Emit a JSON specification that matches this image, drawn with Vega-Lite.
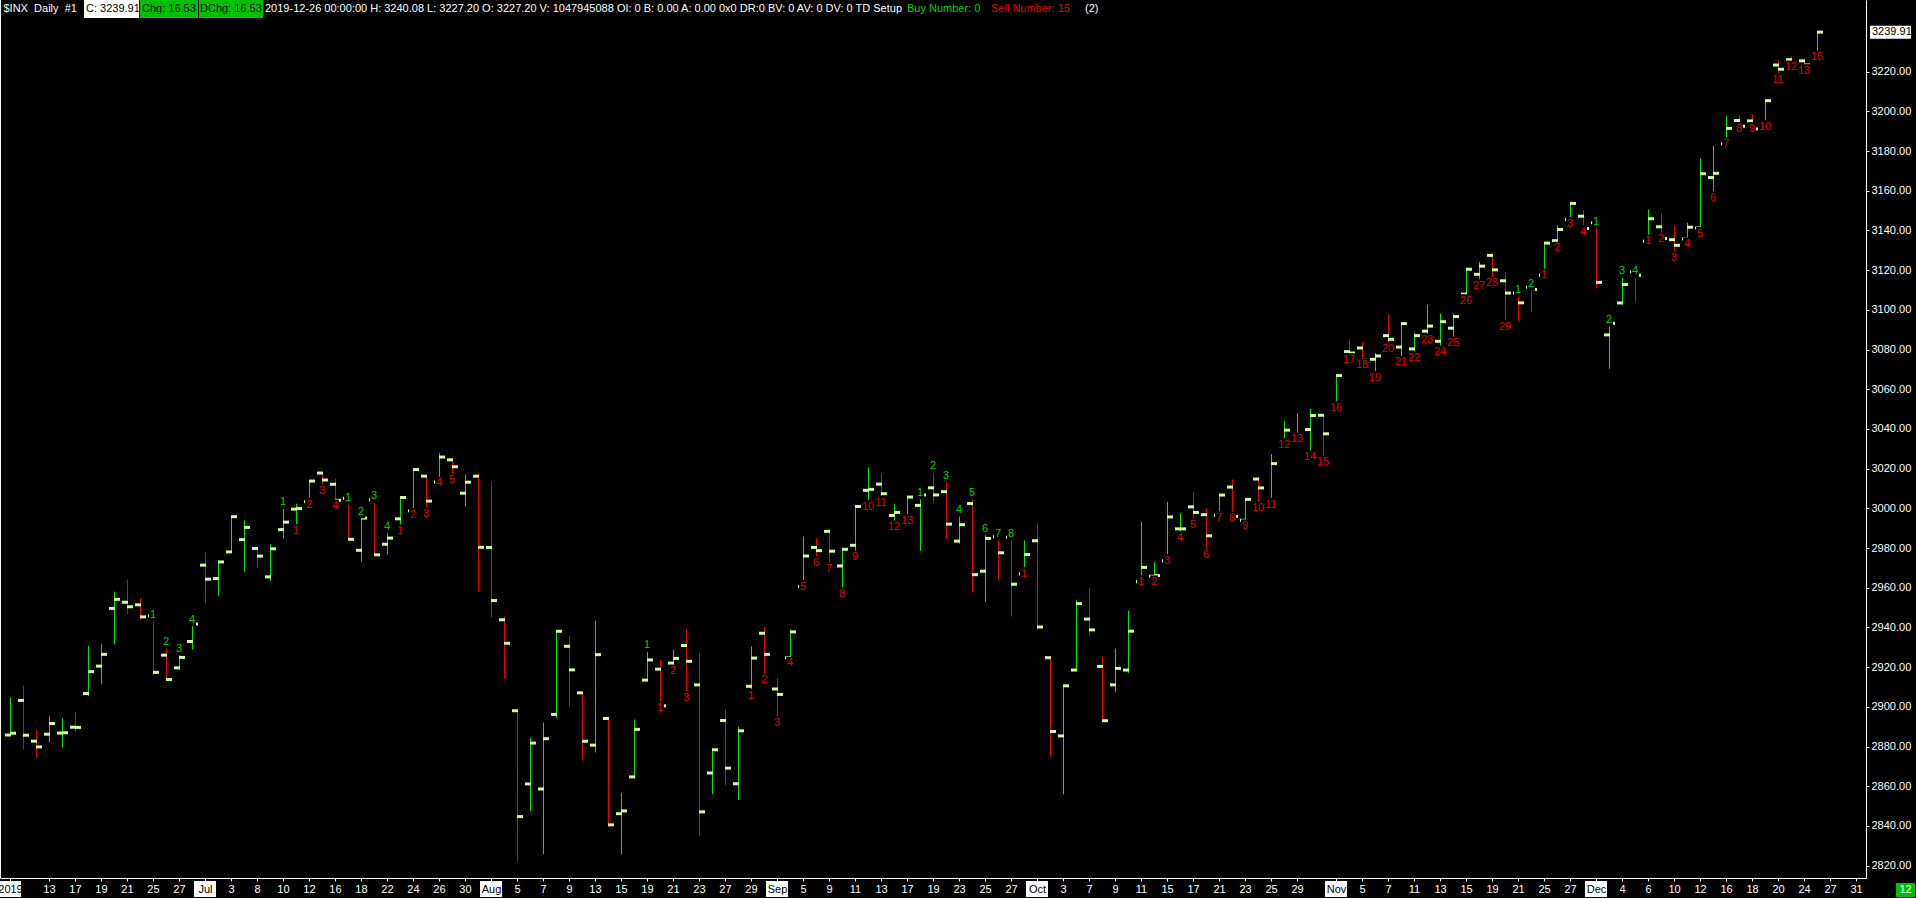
{
"$schema": "https://vega.github.io/schema/vega-lite/v6.json",
"width": 1866,
"height": 878,
"autosize": {"type": "none"},
"padding": {"left": 0, "top": 0, "right": 50, "bottom": 20},
"background": "#000000",
"config": {"view": {"stroke": null}, "font": "Liberation Sans", "axis": {"labelFont": "Liberation Sans"}},
"datasets": {
"ohlc": [
{"d":"2019-06-10","o":2885.83,"h":2904.77,"l":2885.51,"c":2886.73},
{"d":"2019-06-11","o":2903.27,"h":2910.61,"l":2878.53,"c":2885.72},
{"d":"2019-06-12","o":2882.73,"h":2888.57,"l":2874.68,"c":2879.84},
{"d":"2019-06-13","o":2886.24,"h":2895.24,"l":2881.99,"c":2891.64},
{"d":"2019-06-14","o":2886.82,"h":2894.45,"l":2879.62,"c":2886.98},
{"d":"2019-06-17","o":2889.75,"h":2897.27,"l":2887.30,"c":2889.67},
{"d":"2019-06-18","o":2906.71,"h":2930.79,"l":2905.44,"c":2917.75},
{"d":"2019-06-19","o":2920.55,"h":2931.74,"l":2911.43,"c":2926.46},
{"d":"2019-06-20","o":2949.60,"h":2958.06,"l":2931.50,"c":2954.18},
{"d":"2019-06-21","o":2952.71,"h":2964.15,"l":2946.87,"c":2950.46},
{"d":"2019-06-24","o":2951.42,"h":2954.92,"l":2944.05,"c":2945.35},
{"d":"2019-06-25","o":2945.78,"h":2946.52,"l":2916.01,"c":2917.38,"b":1},
{"d":"2019-06-26","o":2926.07,"h":2932.59,"l":2912.99,"c":2913.78,"b":2},
{"d":"2019-06-27","o":2919.66,"h":2929.30,"l":2918.57,"c":2924.92,"b":3},
{"d":"2019-06-28","o":2932.94,"h":2943.98,"l":2929.05,"c":2941.76,"b":4},
{"d":"2019-07-01","o":2971.41,"h":2977.93,"l":2952.22,"c":2964.33},
{"d":"2019-07-02","o":2964.66,"h":2973.21,"l":2955.92,"c":2973.01},
{"d":"2019-07-03","o":2978.08,"h":2995.84,"l":2977.96,"c":2995.82},
{"d":"2019-07-05","o":2984.25,"h":2994.03,"l":2967.97,"c":2990.41},
{"d":"2019-07-08","o":2979.77,"h":2980.76,"l":2970.09,"c":2975.95},
{"d":"2019-07-09","o":2965.52,"h":2981.90,"l":2963.44,"c":2979.63},
{"d":"2019-07-10","o":2989.30,"h":3002.98,"l":2984.62,"c":2993.07,"b":1},
{"d":"2019-07-11","o":2999.62,"h":3002.33,"l":2988.80,"c":2999.91,"s":1},
{"d":"2019-07-12","o":3003.36,"h":3013.92,"l":3001.87,"c":3013.77,"s":2},
{"d":"2019-07-15","o":3017.80,"h":3017.80,"l":3008.77,"c":3014.30,"s":3},
{"d":"2019-07-16","o":3012.13,"h":3015.02,"l":3001.15,"c":3004.04,"s":4},
{"d":"2019-07-17","o":3005.10,"h":3005.26,"l":2984.25,"c":2984.42,"b":1},
{"d":"2019-07-18","o":2978.87,"h":2998.28,"l":2973.09,"c":2995.11,"b":2},
{"d":"2019-07-19","o":3004.26,"h":3006.02,"l":2975.86,"c":2976.61,"b":3},
{"d":"2019-07-22","o":2981.93,"h":2990.71,"l":2976.65,"c":2985.03,"b":4},
{"d":"2019-07-23","o":2994.74,"h":3005.90,"l":2988.56,"c":3005.47,"s":1},
{"d":"2019-07-24","o":2998.77,"h":3019.59,"l":2996.82,"c":3019.56,"s":2},
{"d":"2019-07-25","o":3016.26,"h":3016.31,"l":2997.24,"c":3003.67,"s":3},
{"d":"2019-07-26","o":3013.25,"h":3027.98,"l":3012.59,"c":3025.86,"s":4},
{"d":"2019-07-29","o":3024.47,"h":3025.61,"l":3014.30,"c":3020.97,"s":5},
{"d":"2019-07-30","o":3007.66,"h":3017.19,"l":3000.94,"c":3013.18},
{"d":"2019-07-31","o":3016.22,"h":3017.40,"l":2958.08,"c":2980.38},
{"d":"2019-08-01","o":2980.32,"h":3013.59,"l":2945.23,"c":2953.56},
{"d":"2019-08-02","o":2943.90,"h":2945.50,"l":2914.11,"c":2932.05},
{"d":"2019-08-05","o":2898.07,"h":2898.07,"l":2822.12,"c":2844.74},
{"d":"2019-08-06","o":2861.18,"h":2884.40,"l":2847.42,"c":2881.77},
{"d":"2019-08-07","o":2858.65,"h":2892.17,"l":2825.71,"c":2883.98},
{"d":"2019-08-08","o":2896.21,"h":2938.72,"l":2894.47,"c":2938.09},
{"d":"2019-08-09","o":2930.51,"h":2935.75,"l":2900.15,"c":2918.65},
{"d":"2019-08-12","o":2907.07,"h":2907.58,"l":2873.14,"c":2882.70},
{"d":"2019-08-13","o":2880.72,"h":2943.31,"l":2877.05,"c":2926.32},
{"d":"2019-08-14","o":2894.15,"h":2894.15,"l":2839.64,"c":2840.60},
{"d":"2019-08-15","o":2846.20,"h":2856.67,"l":2825.51,"c":2847.60},
{"d":"2019-08-16","o":2864.74,"h":2893.63,"l":2864.74,"c":2888.68},
{"d":"2019-08-19","o":2913.48,"h":2931.00,"l":2913.48,"c":2923.65,"b":1},
{"d":"2019-08-20","o":2919.01,"h":2923.63,"l":2899.60,"c":2900.51,"s":1},
{"d":"2019-08-21","o":2922.04,"h":2928.73,"l":2917.91,"c":2924.43,"s":2},
{"d":"2019-08-22","o":2930.94,"h":2939.08,"l":2904.51,"c":2922.95,"s":3},
{"d":"2019-08-23","o":2911.07,"h":2927.01,"l":2834.97,"c":2847.11},
{"d":"2019-08-26","o":2866.70,"h":2879.27,"l":2856.00,"c":2878.38},
{"d":"2019-08-27","o":2893.14,"h":2898.79,"l":2860.59,"c":2869.16},
{"d":"2019-08-28","o":2861.28,"h":2890.03,"l":2853.05,"c":2887.94},
{"d":"2019-08-29","o":2910.37,"h":2930.50,"l":2905.67,"c":2924.58,"s":1},
{"d":"2019-08-30","o":2937.09,"h":2940.43,"l":2913.32,"c":2926.46,"s":2},
{"d":"2019-09-03","o":2909.01,"h":2914.39,"l":2891.85,"c":2906.27,"s":3},
{"d":"2019-09-04","o":2924.67,"h":2938.84,"l":2921.86,"c":2937.78,"s":4},
{"d":"2019-09-05","o":2960.60,"h":2985.86,"l":2960.60,"c":2976.00,"s":5},
{"d":"2019-09-06","o":2980.33,"h":2985.03,"l":2972.51,"c":2978.71,"s":6},
{"d":"2019-09-09","o":2988.43,"h":2989.43,"l":2969.39,"c":2978.43,"s":7},
{"d":"2019-09-10","o":2971.01,"h":2979.39,"l":2957.01,"c":2979.39,"s":8},
{"d":"2019-09-11","o":2981.41,"h":3000.93,"l":2975.31,"c":3000.93,"s":9},
{"d":"2019-09-12","o":3009.08,"h":3020.74,"l":3000.92,"c":3009.57,"s":10},
{"d":"2019-09-13","o":3012.21,"h":3017.33,"l":3002.90,"c":3007.39,"s":11},
{"d":"2019-09-16","o":2996.41,"h":3002.19,"l":2990.67,"c":2997.96,"s":12},
{"d":"2019-09-17","o":2995.67,"h":3006.21,"l":2993.73,"c":3005.70,"s":13},
{"d":"2019-09-18","o":3001.50,"h":3007.83,"l":2978.57,"c":3006.73,"b":1},
{"d":"2019-09-19","o":3010.36,"h":3021.19,"l":3003.16,"c":3006.79,"b":2},
{"d":"2019-09-20","o":3008.42,"h":3016.37,"l":2984.68,"c":2992.07,"b":3},
{"d":"2019-09-23","o":2983.50,"h":2999.15,"l":2982.23,"c":2991.78,"b":4},
{"d":"2019-09-24","o":3002.43,"h":3007.98,"l":2957.73,"c":2966.60,"b":5},
{"d":"2019-09-25","o":2968.35,"h":2989.82,"l":2952.86,"c":2984.87,"b":6},
{"d":"2019-09-26","o":2985.73,"h":2987.28,"l":2963.71,"c":2977.62,"b":7},
{"d":"2019-09-27","o":2985.47,"h":2987.31,"l":2945.53,"c":2961.79,"b":8},
{"d":"2019-09-30","o":2967.07,"h":2983.85,"l":2967.07,"c":2976.74,"s":1},
{"d":"2019-10-01","o":2983.69,"h":2992.53,"l":2938.70,"c":2940.25},
{"d":"2019-10-02","o":2924.78,"h":2924.78,"l":2874.93,"c":2887.61},
{"d":"2019-10-03","o":2885.38,"h":2911.13,"l":2855.94,"c":2910.63},
{"d":"2019-10-04","o":2918.56,"h":2953.74,"l":2918.56,"c":2952.01},
{"d":"2019-10-07","o":2944.23,"h":2959.75,"l":2935.68,"c":2938.79},
{"d":"2019-10-08","o":2920.40,"h":2925.47,"l":2892.66,"c":2893.06},
{"d":"2019-10-09","o":2911.10,"h":2929.32,"l":2907.41,"c":2919.40},
{"d":"2019-10-10","o":2918.55,"h":2948.46,"l":2917.12,"c":2938.13},
{"d":"2019-10-11","o":2963.07,"h":2993.28,"l":2963.07,"c":2970.27,"s":1},
{"d":"2019-10-14","o":2965.81,"h":2972.84,"l":2962.94,"c":2966.15,"s":2},
{"d":"2019-10-15","o":2973.61,"h":3003.28,"l":2973.61,"c":2995.68,"s":3},
{"d":"2019-10-16","o":2989.68,"h":2997.54,"l":2985.20,"c":2989.69,"s":4},
{"d":"2019-10-17","o":3000.77,"h":3008.29,"l":2991.79,"c":2997.95,"s":5},
{"d":"2019-10-18","o":2996.84,"h":3000.00,"l":2976.31,"c":2986.20,"s":6},
{"d":"2019-10-21","o":2996.48,"h":3007.33,"l":2995.35,"c":3006.72,"s":7},
{"d":"2019-10-22","o":3010.73,"h":3014.57,"l":2995.04,"c":2995.99,"s":8},
{"d":"2019-10-23","o":2994.01,"h":3004.78,"l":2991.21,"c":3004.52,"s":9},
{"d":"2019-10-24","o":3014.78,"h":3016.07,"l":3000.42,"c":3010.29,"s":10},
{"d":"2019-10-25","o":3003.32,"h":3027.39,"l":3001.94,"c":3022.55,"s":11},
{"d":"2019-10-28","o":3032.12,"h":3044.08,"l":3032.12,"c":3039.42,"s":12},
{"d":"2019-10-29","o":3035.39,"h":3047.87,"l":3034.81,"c":3036.89,"s":13},
{"d":"2019-10-30","o":3039.74,"h":3050.10,"l":3025.96,"c":3046.77,"s":14},
{"d":"2019-10-31","o":3046.90,"h":3046.90,"l":3023.19,"c":3037.56,"s":15},
{"d":"2019-11-01","o":3050.72,"h":3066.95,"l":3050.72,"c":3066.91,"s":16},
{"d":"2019-11-04","o":3078.96,"h":3085.20,"l":3074.87,"c":3078.27,"s":17},
{"d":"2019-11-05","o":3080.80,"h":3083.95,"l":3072.15,"c":3074.62,"s":18},
{"d":"2019-11-06","o":3075.10,"h":3078.34,"l":3065.89,"c":3076.78,"s":19},
{"d":"2019-11-07","o":3087.02,"h":3097.77,"l":3080.23,"c":3085.18,"s":20},
{"d":"2019-11-08","o":3081.25,"h":3093.09,"l":3073.58,"c":3093.08,"s":21},
{"d":"2019-11-11","o":3080.33,"h":3088.33,"l":3075.82,"c":3087.01,"s":22},
{"d":"2019-11-12","o":3089.28,"h":3102.61,"l":3084.73,"c":3091.84,"s":23},
{"d":"2019-11-13","o":3084.18,"h":3098.06,"l":3078.80,"c":3094.04,"s":24},
{"d":"2019-11-14","o":3090.75,"h":3098.20,"l":3083.26,"c":3096.63,"s":25},
{"d":"2019-11-15","o":3107.92,"h":3120.46,"l":3104.60,"c":3120.46,"s":26},
{"d":"2019-11-18","o":3117.91,"h":3124.17,"l":3112.06,"c":3122.03,"s":27},
{"d":"2019-11-19","o":3127.45,"h":3127.64,"l":3113.47,"c":3120.18,"s":28},
{"d":"2019-11-20","o":3114.66,"h":3118.97,"l":3091.41,"c":3108.46,"s":29},
{"d":"2019-11-21","o":3108.49,"h":3110.11,"l":3094.55,"c":3103.54,"b":1},
{"d":"2019-11-22","o":3111.41,"h":3112.87,"l":3099.26,"c":3110.29,"b":2},
{"d":"2019-11-25","o":3117.44,"h":3133.83,"l":3117.44,"c":3133.64,"s":1},
{"d":"2019-11-26","o":3134.85,"h":3142.69,"l":3131.00,"c":3140.52,"s":2},
{"d":"2019-11-27","o":3145.49,"h":3154.26,"l":3143.41,"c":3153.63,"s":3},
{"d":"2019-11-29","o":3147.18,"h":3150.30,"l":3139.34,"c":3140.98,"s":4},
{"d":"2019-12-02","o":3143.85,"h":3144.31,"l":3110.78,"c":3113.87,"b":1},
{"d":"2019-12-03","o":3087.41,"h":3094.97,"l":3070.33,"c":3093.20,"b":2},
{"d":"2019-12-04","o":3103.50,"h":3119.38,"l":3102.53,"c":3112.76,"b":3},
{"d":"2019-12-05","o":3119.21,"h":3119.45,"l":3103.76,"c":3117.43,"b":4},
{"d":"2019-12-06","o":3134.62,"h":3150.60,"l":3134.62,"c":3145.91,"s":1},
{"d":"2019-12-09","o":3141.86,"h":3148.87,"l":3135.46,"c":3135.96,"s":2},
{"d":"2019-12-10","o":3135.36,"h":3142.12,"l":3126.09,"c":3132.52,"s":3},
{"d":"2019-12-11","o":3135.75,"h":3143.98,"l":3133.21,"c":3141.63,"s":4},
{"d":"2019-12-12","o":3141.23,"h":3176.28,"l":3138.47,"c":3168.57,"s":5},
{"d":"2019-12-13","o":3166.65,"h":3182.68,"l":3156.51,"c":3168.80,"s":6},
{"d":"2019-12-16","o":3183.63,"h":3197.71,"l":3183.63,"c":3191.45,"s":7},
{"d":"2019-12-17","o":3195.40,"h":3198.22,"l":3191.03,"c":3192.52,"s":8},
{"d":"2019-12-18","o":3195.21,"h":3198.48,"l":3191.14,"c":3191.14,"s":9},
{"d":"2019-12-19","o":3192.32,"h":3205.48,"l":3192.32,"c":3205.37,"s":10},
{"d":"2019-12-20","o":3223.33,"h":3225.65,"l":3216.03,"c":3221.22,"s":11},
{"d":"2019-12-23","o":3226.05,"h":3227.78,"l":3222.30,"c":3224.01,"s":12},
{"d":"2019-12-24","o":3225.45,"h":3226.43,"l":3220.51,"c":3223.38,"s":13},
{"d":"2019-12-26","o":3227.20,"h":3240.08,"l":3227.20,"c":3239.91,"s":15}
],
"months": [
{"d":"2019-06-10"},{"d":"2019-07-01"},{"d":"2019-08-01"},{"d":"2019-09-03"},{"d":"2019-10-01"},{"d":"2019-11-01"},{"d":"2019-12-02"}
]
},
"data": {"name": "ohlc"},
"encoding": {
"x": {"field": "d", "type": "ordinal",
"scale": {"type": "point", "padding": 0.7692, "domain": ["2019-06-10","2019-06-11","2019-06-12","2019-06-13","2019-06-14","2019-06-17","2019-06-18","2019-06-19","2019-06-20","2019-06-21","2019-06-24","2019-06-25","2019-06-26","2019-06-27","2019-06-28","2019-07-01","2019-07-02","2019-07-03","2019-07-05","2019-07-08","2019-07-09","2019-07-10","2019-07-11","2019-07-12","2019-07-15","2019-07-16","2019-07-17","2019-07-18","2019-07-19","2019-07-22","2019-07-23","2019-07-24","2019-07-25","2019-07-26","2019-07-29","2019-07-30","2019-07-31","2019-08-01","2019-08-02","2019-08-05","2019-08-06","2019-08-07","2019-08-08","2019-08-09","2019-08-12","2019-08-13","2019-08-14","2019-08-15","2019-08-16","2019-08-19","2019-08-20","2019-08-21","2019-08-22","2019-08-23","2019-08-26","2019-08-27","2019-08-28","2019-08-29","2019-08-30","2019-09-03","2019-09-04","2019-09-05","2019-09-06","2019-09-09","2019-09-10","2019-09-11","2019-09-12","2019-09-13","2019-09-16","2019-09-17","2019-09-18","2019-09-19","2019-09-20","2019-09-23","2019-09-24","2019-09-25","2019-09-26","2019-09-27","2019-09-30","2019-10-01","2019-10-02","2019-10-03","2019-10-04","2019-10-07","2019-10-08","2019-10-09","2019-10-10","2019-10-11","2019-10-14","2019-10-15","2019-10-16","2019-10-17","2019-10-18","2019-10-21","2019-10-22","2019-10-23","2019-10-24","2019-10-25","2019-10-28","2019-10-29","2019-10-30","2019-10-31","2019-11-01","2019-11-04","2019-11-05","2019-11-06","2019-11-07","2019-11-08","2019-11-11","2019-11-12","2019-11-13","2019-11-14","2019-11-15","2019-11-18","2019-11-19","2019-11-20","2019-11-21","2019-11-22","2019-11-25","2019-11-26","2019-11-27","2019-11-29","2019-12-02","2019-12-03","2019-12-04","2019-12-05","2019-12-06","2019-12-09","2019-12-10","2019-12-11","2019-12-12","2019-12-13","2019-12-16","2019-12-17","2019-12-18","2019-12-19","2019-12-20","2019-12-23","2019-12-24","2019-12-26","2019-12-27","2019-12-30","2019-12-31"]},
"axis": {"orient": "bottom", "title": null, "grid": false, "zindex": 1, "labelAngle": 0,
"values": ["2019-06-10","2019-06-13","2019-06-17","2019-06-19","2019-06-21","2019-06-25","2019-06-27","2019-07-01","2019-07-03","2019-07-08","2019-07-10","2019-07-12","2019-07-16","2019-07-18","2019-07-22","2019-07-24","2019-07-26","2019-07-30","2019-08-01","2019-08-05","2019-08-07","2019-08-09","2019-08-13","2019-08-15","2019-08-19","2019-08-21","2019-08-23","2019-08-27","2019-08-29","2019-09-03","2019-09-05","2019-09-09","2019-09-11","2019-09-13","2019-09-17","2019-09-19","2019-09-23","2019-09-25","2019-09-27","2019-10-01","2019-10-03","2019-10-07","2019-10-09","2019-10-11","2019-10-15","2019-10-17","2019-10-21","2019-10-23","2019-10-25","2019-10-29","2019-11-01","2019-11-05","2019-11-07","2019-11-11","2019-11-13","2019-11-15","2019-11-19","2019-11-21","2019-11-25","2019-11-27","2019-12-02","2019-12-04","2019-12-06","2019-12-10","2019-12-12","2019-12-16","2019-12-18","2019-12-20","2019-12-24","2019-12-27","2019-12-31"],
"labelExpr": "datum.value=='2019-06-10'?'2019':datum.value=='2019-07-01'?'Jul':datum.value=='2019-08-01'?'Aug':datum.value=='2019-09-03'?'Sep':datum.value=='2019-10-01'?'Oct':datum.value=='2019-11-01'?'Nov':datum.value=='2019-12-02'?'Dec':''+parseInt(slice(datum.value,8),10)",
"labelColor": {"condition": {"test": "indexof(['2019-06-10','2019-07-01','2019-08-01','2019-09-03','2019-10-01','2019-11-01','2019-12-02'], datum.value) >= 0", "value": "#000000"}, "value": "#ffffff"},
"labelFontSize": 11, "labelPadding": 2, "tickSize": 3, "tickColor": "#ffffff", "domainColor": "#ffffff", "labelOverlap": false, "labelFlush": false, "labelBound": false}
}
},
"layer": [
{"data": {"name": "months"},
 "mark": {"type": "bar", "width": 22, "color": "#ffffff"},
 "encoding": {"y": {"datum": 2812.29, "type": "quantitative", "axis": {"title": null}}, "y2": {"datum": 2804.23}}},
{"mark": {"type": "rule", "strokeWidth": 1, "xOffset": 0.5},
 "encoding": {
  "y": {"field": "l", "type": "quantitative", "scale": {"domain": [2813.8, 3256.1], "nice": false, "zero": false},
   "axis": {"orient": "right", "title": null, "grid": false, "zindex": 1, "values": [2820,2840,2860,2880,2900,2920,2940,2960,2980,3000,3020,3040,3060,3080,3100,3120,3140,3160,3180,3200,3220], "format": ".2f", "labelColor": "#ffffff", "labelFontSize": 11, "labelPadding": 2, "tickSize": 3, "tickColor": "#ffffff", "domainColor": "#ffffff", "labelOverlap": false, "labelBound": false, "labelFlush": false}},
  "y2": {"field": "h"},
  "color": {"condition": {"test": "datum.c >= datum.o", "value": "#00e600"}, "value": "#ee0000"}}},
{"mark": {"type": "tick", "orient": "horizontal", "size": 6, "thickness": 3, "xOffset": -2, "color": "#ccff99", "opacity": 1},
 "encoding": {"y": {"field": "o", "type": "quantitative", "axis": {"title": null}}}},
{"mark": {"type": "tick", "orient": "horizontal", "size": 6, "thickness": 3, "xOffset": 3, "color": "#ccff99", "opacity": 1},
 "encoding": {"y": {"field": "c", "type": "quantitative", "axis": {"title": null}}}},
{"transform": [{"filter": "isValid(datum.b)"}],
 "mark": {"type": "point", "filled": true, "color": "#000000", "size": 169, "opacity": 1, "strokeWidth": 0},
 "encoding": {"y": {"field": "h", "type": "quantitative", "axis": {"title": null}},
  "shape": {"condition": {"test": "datum.b >= 10", "value": "square"}, "value": "M-0.6,-1V1H0.6V-1Z"}}},
{"transform": [{"filter": "isValid(datum.s)"}],
 "mark": {"type": "point", "filled": true, "color": "#000000", "size": 169, "opacity": 1, "strokeWidth": 0},
 "encoding": {"y": {"field": "l", "type": "quantitative", "axis": {"title": null}},
  "shape": {"condition": {"test": "datum.s >= 10", "value": "square"}, "value": "M-0.6,-1V1H0.6V-1Z"}}},
{"transform": [{"filter": "isValid(datum.b)"}],
 "mark": {"type": "text", "color": "#00d000", "fontSize": 11, "baseline": "middle", "align": "center", "font": "Liberation Sans"},
 "encoding": {"y": {"field": "h", "type": "quantitative", "axis": {"title": null}}, "text": {"field": "b", "type": "quantitative"}}},
{"transform": [{"filter": "isValid(datum.s)"}],
 "mark": {"type": "text", "color": "#e00000", "fontSize": 11, "baseline": "middle", "align": "center", "font": "Liberation Sans"},
 "encoding": {"y": {"field": "l", "type": "quantitative", "axis": {"title": null}}, "text": {"field": "s", "type": "quantitative"}}},
{"data": {"values": [{}]},
 "mark": {"type": "rule", "color": "#ffffff", "strokeWidth": 1, "xOffset": -9.5},
 "encoding": {"x": {"datum": "2019-06-10", "type": "ordinal"}}},
{"data": {"values": [{}]},
 "mark": {"type": "rect", "color": "#ffffff", "xOffset": -4, "x2Offset": -1},
 "encoding": {"x": {"datum": "2019-06-18", "type": "ordinal"}, "x2": {"datum": "2019-06-24"}, "y": {"datum": 3256.1, "type": "quantitative", "axis": {"title": null}}, "y2": {"datum": 3247.03}}},
{"data": {"values": [{}]},
 "mark": {"type": "rect", "color": "#00c000", "xOffset": 0, "x2Offset": 6},
 "encoding": {"x": {"datum": "2019-06-24", "type": "ordinal"}, "x2": {"datum": "2019-06-28"}, "y": {"datum": 3256.1, "type": "quantitative", "axis": {"title": null}}, "y2": {"datum": 3247.03}}},
{"data": {"values": [{}]},
 "mark": {"type": "rect", "color": "#00c000", "xOffset": 7, "x2Offset": 6},
 "encoding": {"x": {"datum": "2019-06-28", "type": "ordinal"}, "x2": {"datum": "2019-07-08"}, "y": {"datum": 3256.1, "type": "quantitative", "axis": {"title": null}}, "y2": {"datum": 3247.03}}},
{"data": {"values": [{}]},
 "mark": {"type": "text", "text": "$INX\u00a0\u00a0Daily\u00a0\u00a0#1", "color": "#ffffff", "fontSize": 11, "align": "left", "baseline": "middle", "dx": -6.5, "font": "Liberation Sans"},
 "encoding": {"x": {"datum": "2019-06-10", "type": "ordinal"}, "y": {"datum": 3251.6, "type": "quantitative", "axis": {"title": null}}}},
{"data": {"values": [{}]},
 "mark": {"type": "text", "text": "C: 3239.91", "color": "#000000", "fontSize": 11, "align": "left", "baseline": "middle", "dx": -2, "font": "Liberation Sans"},
 "encoding": {"x": {"datum": "2019-06-18", "type": "ordinal"}, "y": {"datum": 3251.6, "type": "quantitative", "axis": {"title": null}}}},
{"data": {"values": [{}]},
 "mark": {"type": "text", "text": "Chg: 16.53", "color": "#000000", "fontSize": 11, "align": "left", "baseline": "middle", "dx": 2, "font": "Liberation Sans"},
 "encoding": {"x": {"datum": "2019-06-24", "type": "ordinal"}, "y": {"datum": 3251.6, "type": "quantitative", "axis": {"title": null}}}},
{"data": {"values": [{}]},
 "mark": {"type": "text", "text": "DChg: 16.53", "color": "#000000", "fontSize": 11, "align": "left", "baseline": "middle", "dx": 8, "font": "Liberation Sans"},
 "encoding": {"x": {"datum": "2019-06-28", "type": "ordinal"}, "y": {"datum": 3251.6, "type": "quantitative", "axis": {"title": null}}}},
{"data": {"values": [{}]},
 "mark": {"type": "text", "text": "2019-12-26 00:00:00 H: 3240.08 L: 3227.20 O: 3227.20 V: 1047945088 OI: 0 B: 0.00 A: 0.00 0x0 DR:0 BV: 0 AV: 0 DV: 0 TD Setup", "color": "#ffffff", "fontSize": 11, "align": "left", "baseline": "middle", "dx": -5, "font": "Liberation Sans"},
 "encoding": {"x": {"datum": "2019-07-09", "type": "ordinal"}, "y": {"datum": 3251.6, "type": "quantitative", "axis": {"title": null}}}},
{"data": {"values": [{}]},
 "mark": {"type": "text", "text": "Buy Number: 0", "color": "#00d000", "fontSize": 11, "align": "left", "baseline": "middle", "dx": 0, "font": "Liberation Sans"},
 "encoding": {"x": {"datum": "2019-09-17", "type": "ordinal"}, "y": {"datum": 3251.6, "type": "quantitative", "axis": {"title": null}}}},
{"data": {"values": [{}]},
 "mark": {"type": "text", "text": "Sell Number: 15", "color": "#e00000", "fontSize": 11, "align": "left", "baseline": "middle", "dx": 6, "font": "Liberation Sans"},
 "encoding": {"x": {"datum": "2019-09-25", "type": "ordinal"}, "y": {"datum": 3251.6, "type": "quantitative", "axis": {"title": null}}}},
{"data": {"values": [{}]},
 "mark": {"type": "text", "text": "(2)", "color": "#ffffff", "fontSize": 11, "align": "left", "baseline": "middle", "dx": -4, "font": "Liberation Sans"},
 "encoding": {"x": {"datum": "2019-10-07", "type": "ordinal"}, "y": {"datum": 3251.6, "type": "quantitative", "axis": {"title": null}}}},
{"data": {"values": [{}]},
 "mark": {"type": "rect", "color": "#ffffff", "xOffset": 14, "x2Offset": 55, "yOffset": -6.5, "y2Offset": 6.5},
 "encoding": {"x": {"datum": "2019-12-31", "type": "ordinal"}, "x2": {"datum": "2019-12-31"}, "y": {"datum": 3239.91, "type": "quantitative", "axis": {"title": null}}, "y2": {"datum": 3239.91}}},
{"data": {"values": [{}]},
 "mark": {"type": "text", "text": "3239.91", "color": "#000000", "fontSize": 11, "align": "left", "baseline": "middle", "dx": 16, "font": "Liberation Sans"},
 "encoding": {"x": {"datum": "2019-12-31", "type": "ordinal"}, "y": {"datum": 3239.91, "type": "quantitative", "axis": {"title": null}}}},
{"data": {"values": [{}]},
 "mark": {"type": "rect", "color": "#00c000", "xOffset": 40, "x2Offset": 59},
 "encoding": {"x": {"datum": "2019-12-31", "type": "ordinal"}, "x2": {"datum": "2019-12-31"}, "y": {"datum": 2811.28, "type": "quantitative", "axis": {"title": null}}, "y2": {"datum": 2804.23}}},
{"data": {"values": [{}]},
 "mark": {"type": "text", "text": "12", "color": "#ffffff", "fontSize": 11, "align": "center", "baseline": "middle", "dx": 49.5, "font": "Liberation Sans"},
 "encoding": {"x": {"datum": "2019-12-31", "type": "ordinal"}, "y": {"datum": 2807.7, "type": "quantitative", "axis": {"title": null}}}}
]
}
